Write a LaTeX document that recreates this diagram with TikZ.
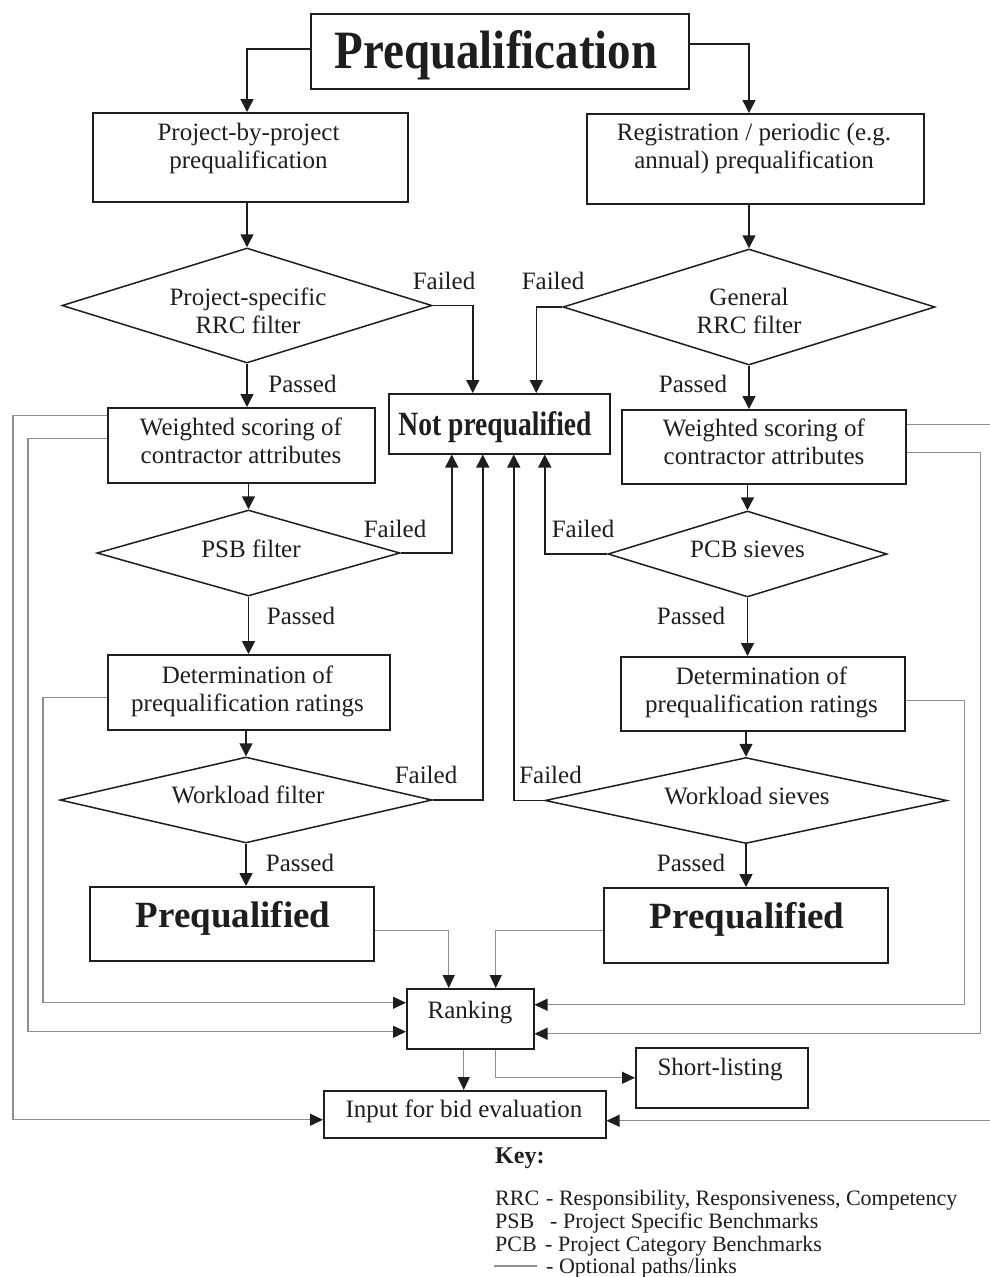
\documentclass[tikz,border=0pt]{standalone}
\usepackage{graphicx}
\usepackage{fontspec}
\setmainfont{Liberation Serif}
\usetikzlibrary{shapes.geometric,arrows.meta}
\definecolor{ink}{HTML}{1E1E1E}
\definecolor{optgray}{HTML}{8E8E8E}

\begin{document}
\begin{tikzpicture}[x=1pt,y=-1pt,
  box/.style={draw=ink,line width=1.5pt,rectangle,inner sep=0,anchor=north west},
  dia/.style={draw=ink,line width=1.5pt,diamond,inner sep=0},
  txt/.style={inner sep=0,align=center,text=ink,font=\fontsize{25}{28}\selectfont},
  lbl/.style={inner sep=0,anchor=base,text=ink,font=\fontsize{25}{28}\selectfont},
  keytxt/.style={inner sep=0,anchor=base west,text=ink,font=\fontsize{22}{26}\selectfont},
  flow/.style={draw=ink,line width=1.5pt,-{Triangle[length=13pt,width=13pt]}},
  opt/.style={draw=optgray,line width=1.2pt,-{Triangle[length=13pt,width=12pt,color=ink]}},
]
\useasboundingbox[fill=white] (0,0) rectangle (990,1277);

% ---------- shapes ----------
\node[box,minimum width=378,minimum height=75] (title) at (310,13) {};
\node[box,minimum width=315,minimum height=89] (pbp) at (92,112) {};
\node[box,minimum width=337,minimum height=90] (reg) at (586,113) {};
\node[dia,minimum width=370,minimum height=115] (d1) at (247,305.5) {};
\node[dia,minimum width=372,minimum height=116] (d2) at (749,307) {};
\node[box,minimum width=221,minimum height=60] (np) at (388,393) {};
\node[box,minimum width=267,minimum height=75] (ws1) at (107,407) {};
\node[box,minimum width=284,minimum height=74] (ws2) at (621,409) {};
\node[dia,minimum width=303,minimum height=86] (psb) at (248.5,553) {};
\node[dia,minimum width=279,minimum height=86] (pcb) at (747.5,554) {};
\node[box,minimum width=282,minimum height=75] (det1) at (107,654) {};
\node[box,minimum width=284,minimum height=74] (det2) at (620,656) {};
\node[dia,minimum width=372,minimum height=86] (wl1) at (246,800) {};
\node[dia,minimum width=402,minimum height=86] (wl2) at (746,800.5) {};
\node[box,minimum width=284,minimum height=74] (pq1) at (89,886) {};
\node[box,minimum width=284,minimum height=75] (pq2) at (603,887) {};
\node[box,minimum width=127,minimum height=60] (rank) at (406,988) {};
\node[box,minimum width=172,minimum height=60] (short) at (635,1047) {};
\node[box,minimum width=282,minimum height=47] (inp) at (323,1090) {};

% ---------- texts ----------
\node[lbl,font=\fontsize{54}{60}\selectfont\bfseries] (titleT) at (496,68) {\scalebox{0.87}[1]{Prequalification}};
\node[txt] (pbpT) at (248.5,148.5) {Project-by-project\\prequalification};
\node[txt] (regT) at (754,148.5) {Registration / periodic (e.g.\\annual) prequalification};
\node[txt] (d1T) at (248,310.5) {Project-specific\\RRC filter};
\node[txt] (d2T) at (749,310.5) {General\\RRC filter};
\node[lbl,font=\fontsize{34}{40}\selectfont\bfseries] (npT) at (495,435) {\scalebox{0.81}[1]{Not prequalified}};
\node[txt] (ws1T) at (241,441) {Weighted scoring of\\contractor attributes};
\node[txt] (ws2T) at (764,442) {Weighted scoring of\\contractor attributes};
\node[lbl] (psbT) at (251,557) {PSB filter};
\node[lbl] (pcbT) at (747.5,557) {PCB sieves};
\node[txt] (det1T) at (247.5,691.5) {Determination of\\prequalification ratings};
\node[txt] (det2T) at (761.5,692.5) {Determination of\\prequalification ratings};
\node[lbl] (wl1T) at (248,803) {Workload filter};
\node[lbl] (wl2T) at (747,804) {Workload sieves};
\node[lbl,font=\fontsize{37}{42}\selectfont\bfseries] (pq1T) at (233,927) {Prequalified};
\node[lbl,font=\fontsize{37}{42}\selectfont\bfseries] (pq2T) at (747,928) {Prequalified};
\node[lbl] (rankT) at (470,1018) {Ranking};
\node[lbl] (shortT) at (720,1075) {Short-listing};
\node[lbl] (inpT) at (464,1117) {Input for bid evaluation};

% ---------- branch labels ----------
\node[lbl] (f1) at (444,289) {Failed};
\node[lbl] (f2) at (553,289) {Failed};
\node[lbl] (p1) at (302.5,392) {Passed};
\node[lbl] (p2) at (693,392) {Passed};
\node[lbl] (f3) at (395,537) {Failed};
\node[lbl] (f4) at (583,537) {Failed};
\node[lbl] (p3) at (301,624) {Passed};
\node[lbl] (p4) at (691,624) {Passed};
\node[lbl] (f5) at (426,783) {Failed};
\node[lbl] (f6) at (550.5,783) {Failed};
\node[lbl] (p5) at (300,871) {Passed};
\node[lbl] (p6) at (691,871) {Passed};

% ---------- main flow ----------
\draw[flow] ([yshift=2.5]title.west) -| (pbp.north -| d1.north);
\draw[flow] ([yshift=7.5]title.east) -| (reg.north -| d2.north);
\draw[flow] (pbp.south -| d1.north) -- (d1.north);
\draw[flow] (reg.south -| d2.north) -- (d2.north);
\draw[flow] (d1.south) -- (d1.south |- ws1.north);
\draw[flow] (d2.south) -- (d2.south |- ws2.north);
\draw[flow] (ws1.south -| psb.north) -- (psb.north);
\draw[flow] (ws2.south -| pcb.north) -- (pcb.north);
\draw[flow] (psb.south) -- (psb.south |- det1.north);
\draw[flow] (pcb.south) -- (pcb.south |- det2.north);
\draw[flow] (det1.south -| wl1.north) -- (wl1.north);
\draw[flow] (det2.south -| wl2.north) -- (wl2.north);
\draw[flow] (wl1.south) -- (wl1.south |- pq1.north);
\draw[flow] (wl2.south) -- (wl2.south |- pq2.north);

% failed branches into "Not prequalified"
\draw[flow] (d1.east) -| ([xshift=-26.5]np.north);
\draw[flow] (d2.west) -| ([xshift=37]np.north);
\draw[flow] (psb.east) -| ([xshift=-47.5]np.south);
\draw[flow] (pcb.west) -| ([xshift=45.5]np.south);
\draw[flow] (wl1.east) -| ([xshift=-16.5]np.south);
\draw[flow] (wl2.west) -| ([xshift=14.5]np.south);

% ---------- optional paths ----------
\draw[opt] ([yshift=29.5]ws1.west) -- ++(-94,0) |- ([yshift=-5.5]inp.west);
\draw[opt] ([yshift=6.5]ws1.west) -- ++(-79,0) |- ([yshift=-13]rank.west);
\draw[opt] ([yshift=-5.5]det1.west) -- ++(-64,0) |- ([yshift=16]rank.west);
\draw[opt] ([yshift=-7]pq1.east) -| ([xshift=-21.5]rank.north);
\draw[opt] ([yshift=-5.5]pq2.west) -| ([xshift=25.5]rank.north);
\draw[opt] ([yshift=-7]det2.east) -- ++(59,0) |- ([yshift=14]rank.east);
\draw[opt] ([yshift=-6]ws2.east) -- ++(74,0) |- ([yshift=-15]rank.east);
\draw[opt] ([yshift=22]ws2.east) -- ++(90,0) |- ([yshift=-6.5]inp.east);
\draw[opt] ([xshift=-6.5]rank.south) -- ([xshift=-6.5]rank.south |- inp.north);
\draw[opt] ([xshift=25.5]rank.south) |- (short.west);

% ---------- key ----------
\node[keytxt,font=\fontsize{24}{28}\selectfont\bfseries] (keyT) at (495,1163) {Key:};
\node[keytxt] (kRRC) at (495,1205) {RRC};
\node[keytxt] (kRRCd) at (546,1205) {- Responsibility, Responsiveness, Competency};
\node[keytxt] (kPSB) at (495,1228) {PSB};
\node[keytxt] (kPSBd) at (550,1228) {- Project Specific Benchmarks};
\node[keytxt] (kPCB) at (495,1251) {PCB};
\node[keytxt] (kPCBd) at (545,1251) {- Project Category Benchmarks};
\coordinate (kl1) at (494,1266);
\coordinate (kl2) at (537,1266);
\draw[draw=optgray,line width=1.2pt] (kl1) -- (kl2);
\node[keytxt] (kOptd) at (546,1273) {- Optional paths/links};
\end{tikzpicture}
\end{document}
